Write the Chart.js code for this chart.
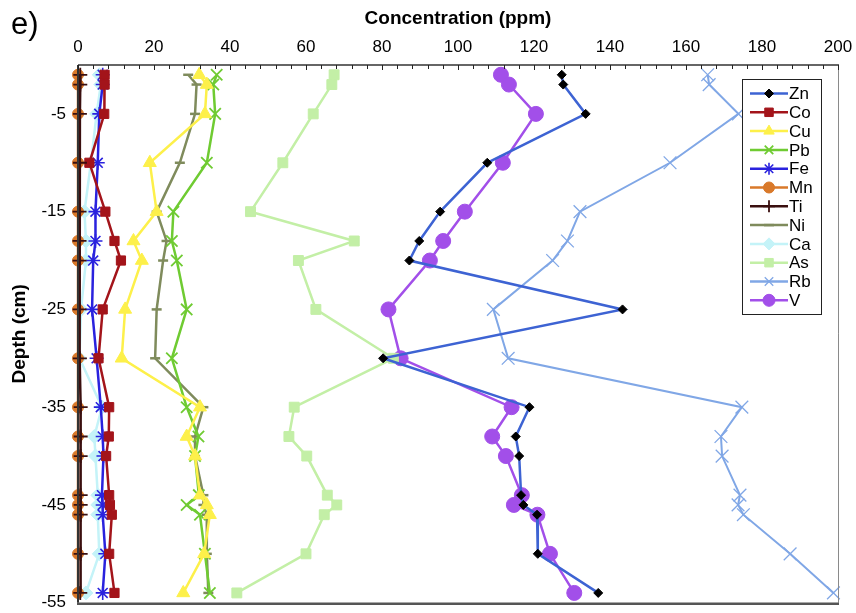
<!DOCTYPE html>
<html>
<head>
<meta charset="utf-8">
<script src="https://cdn.jsdelivr.net/npm/chart.js@4.4.1/dist/chart.umd.min.js"></script>
<style>
  html, body { margin: 0; padding: 0; background: #fff; }
  #wrap { width: 856px; height: 613px; }
</style>
</head>
<body>
<div id="wrap"><canvas id="profile" width="856" height="613"></canvas></div>
<script>
// Sampling depths (cm) of the core, top to bottom
const depths = [-1, -2, -5, -10, -15, -18, -20, -25, -30, -35, -38, -40, -44, -45, -46, -50, -54];

// Element concentrations (ppm) at each depth
const znPpm = [127.3, 127.7, 133.6, 107.7, 95.3, 89.8, 87.2, 143.3, 80.3, 118.8, 115.2, 116.1, 116.6, 117.2, 120.8, 121.0, 136.9];
const coPpm = [7.0, 7.0, 6.9, 3.0, 7.2, 9.6, 11.3, 6.5, 5.4, 8.2, 8.1, 7.4, 8.2, 8.4, 8.9, 8.2, 9.6];
const cuPpm = [31.9, 33.9, 33.4, 18.9, 20.7, 14.6, 16.8, 12.4, 11.5, 32.1, 28.6, 30.8, 32.1, 33.9, 34.7, 33.2, 27.7];
const pbPpm = [36.5, 35.6, 36.1, 33.9, 25.1, 24.7, 26.0, 28.6, 24.7, 28.6, 31.7, 30.8, 31.8, 28.6, 32.1, 33.4, 34.7];
const fePpm = [6.5, 6.5, 5.6, 5.2, 4.6, 4.6, 4.0, 3.7, 4.9, 6.0, 6.5, 6.7, 6.3, 6.5, 6.5, 7.2, 6.5];
const mnPpm = [0, 0, 0, 0, 0, 0, 0, 0, 0, 0, 0, 0, 0, 0, 0, 0, 0];
const tiPpm = [0.6, 0.6, 0.5, 0.5, 0.4, 0.4, 0.4, 0.4, 0.5, 0.7, 0.7, 0.7, 0.7, 0.7, 0.7, 0.7, 0.6];
const niPpm = [29.0, 31.2, 30.8, 26.8, 20.7, 23.3, 22.4, 20.7, 20.3, 33.0, 30.8, 30.8, 33.0, 33.0, 33.9, 33.9, 34.3];
const caPpm = [5.6, 6.0, 4.9, 3.4, 1.7, 2.1, 2.1, 0.8, 0.4, 6.3, 4.3, 4.6, 5.2, 5.2, 5.2, 5.6, 2.1];
const asPpm = [67.4, 66.8, 61.9, 53.9, 45.4, 72.7, 58.0, 62.6, 83.0, 56.9, 55.5, 60.2, 65.6, 68.1, 64.8, 60.0, 41.8];
const rbPpm = [165.7, 166.1, 173.8, 155.8, 132.1, 128.8, 124.9, 109.3, 113.2, 174.7, 169.2, 169.5, 174.2, 173.7, 175.1, 187.4, 198.8];
const vPpm  = [111.3, 113.4, 120.5, 111.8, 101.8, 96.1, 92.6, 81.7, 84.9, 114.1, 109.0, 112.6, 116.8, 114.7, 120.9, 124.2, 130.6];

// Axis tick values
const xTickStep = 20;
const depthTicks = [-5, -15, -25, -35, -45, -55];

const FONT = "'Liberation Sans', Arial, Helvetica, sans-serif";

function profile(values) {
  return values.map((v, i) => ({ x: v, y: depths[i] }));
}

function series(label, values, line, style) {
  return Object.assign({
    label: label,
    data: profile(values),
    showLine: true,
    borderColor: line,
    backgroundColor: line,
    borderWidth: 2.5,
    pointBorderWidth: 1,
    pointHoverRadius: 0,
    clip: false
  }, style);
}

const datasets = [
  series('Zn', znPpm, '#3d63d3', { pointStyle: 'rectRot', pointRadius: 4.5, pointBackgroundColor: '#000', pointBorderColor: '#000' }),
  series('Co', coPpm, '#a3141a', { pointStyle: 'rect', pointRadius: 6.5, pointBackgroundColor: '#a3141a', pointBorderColor: '#a3141a' }),
  series('Cu', cuPpm, '#fdf04a', { pointStyle: 'triangle', pointRadius: 7.5, pointBackgroundColor: '#fdf04a', pointBorderColor: '#fdf04a' }),
  series('Pb', pbPpm, '#6fcb32', { pointStyle: 'crossRot', pointRadius: 8, pointBackgroundColor: '#6fcb32', pointBorderColor: '#6fcb32', pointBorderWidth: 1.8 }),
  series('Fe', fePpm, '#2a22de', { pointStyle: 'star', pointRadius: 7, pointBackgroundColor: '#2a22de', pointBorderColor: '#2a22de', pointBorderWidth: 1.6 }),
  series('Mn', mnPpm, '#d9792a', { pointStyle: 'circle', pointRadius: 5.5, pointBackgroundColor: '#d9792a', pointBorderColor: '#d9792a' }),
  series('Ti', tiPpm, '#3a0f0f', { pointStyle: 'cross', pointRadius: 7, pointBackgroundColor: '#3a0f0f', pointBorderColor: '#3a0f0f', pointBorderWidth: 1.8, order: -1 }),
  series('Ni', niPpm, '#7f8b5c', { pointStyle: 'line', pointRadius: 5, pointBackgroundColor: '#7f8b5c', pointBorderColor: '#7f8b5c', pointBorderWidth: 2.5 }),
  series('Ca', caPpm, '#c4f3f8', { pointStyle: 'rectRot', pointRadius: 7, pointBackgroundColor: '#c4f3f8', pointBorderColor: '#c4f3f8' }),
  series('As', asPpm, '#c3efa6', { pointStyle: 'rect', pointRadius: 7, pointBackgroundColor: '#c3efa6', pointBorderColor: '#c3efa6' }),
  series('Rb', rbPpm, '#80a7e6', { pointStyle: 'crossRot', pointRadius: 9, pointBackgroundColor: '#80a7e6', pointBorderColor: '#80a7e6', pointBorderWidth: 1.3, borderWidth: 2 }),
  series('V',  vPpm,  '#a24fe9', { pointStyle: 'circle', pointRadius: 7.5, pointBackgroundColor: '#a24fe9', pointBorderColor: '#a24fe9' })
];

// Plot frame, inward minor ticks on the top axis, and the panel letter
const framePlugin = {
  id: 'frame',
  afterDatasetsDraw(chart) {
    const { ctx, chartArea: a } = chart;
    const xs = chart.scales.x;
    ctx.save();
    ctx.strokeStyle = '#8a8a8a';
    ctx.lineWidth = 1;
    ctx.beginPath();
    ctx.moveTo(a.right + 0.5, a.top);
    ctx.lineTo(a.right + 0.5, a.bottom);
    ctx.stroke();
    ctx.strokeStyle = '#333';
    ctx.lineWidth = 1.5;
    ctx.beginPath();
    ctx.moveTo(a.left, a.top);
    ctx.lineTo(a.right + 1, a.top);
    ctx.stroke();
    ctx.lineWidth = 2;
    ctx.beginPath();
    ctx.moveTo(a.left, a.top);
    ctx.lineTo(a.left, a.bottom);
    ctx.stroke();
    ctx.strokeStyle = '#555';
    ctx.lineWidth = 2.5;
    ctx.beginPath();
    ctx.moveTo(a.left - 1, a.bottom + 1);
    ctx.lineTo(a.right + 1, a.bottom + 1);
    ctx.stroke();
    ctx.strokeStyle = '#222';
    ctx.lineWidth = 1;
    for (let v = xs.min; v <= xs.max; v += 4) {
      const px = Math.round(xs.getPixelForValue(v)) + 0.5;
      ctx.beginPath();
      ctx.moveTo(px, a.top);
      ctx.lineTo(px, a.top + (v % xTickStep === 0 ? 5 : 4));
      ctx.stroke();
    }
    ctx.fillStyle = '#000';
    ctx.font = '31px ' + FONT;
    ctx.textAlign = 'left';
    ctx.textBaseline = 'alphabetic';
    ctx.fillText('e)', 11, 34);
    ctx.restore();
  }
};

// Boxed legend with a line sample and marker for each element
const legendPlugin = {
  id: 'boxLegend',
  afterDraw(chart) {
    const ctx = chart.ctx;
    const x0 = 742, y0 = 79, w = 79, h = 235, rowH = 18.8;
    ctx.save();
    ctx.fillStyle = '#fff';
    ctx.fillRect(x0, y0, w, h);
    ctx.strokeStyle = '#222';
    ctx.lineWidth = 1;
    ctx.strokeRect(x0 + 0.5, y0 + 0.5, w, h);
    chart.data.datasets.forEach((ds, i) => {
      const y = y0 + 14.5 + i * rowH;
      ctx.strokeStyle = ds.borderColor;
      ctx.lineWidth = 2.5;
      ctx.beginPath();
      ctx.moveTo(750, y);
      ctx.lineTo(788, y);
      ctx.stroke();
      ctx.fillStyle = ds.pointBackgroundColor;
      ctx.strokeStyle = ds.pointBorderColor;
      ctx.lineWidth = ds.pointBorderWidth;
      Chart.helpers.drawPoint(ctx, {
        pointStyle: ds.pointStyle,
        radius: Math.min(ds.pointRadius, 6),
        rotation: 0,
        borderWidth: ds.pointBorderWidth
      }, 769, y);
      ctx.fillStyle = '#000';
      ctx.font = '17px ' + FONT;
      ctx.textAlign = 'left';
      ctx.textBaseline = 'middle';
      ctx.fillText(ds.label, 789, y + 1);
    });
    ctx.restore();
  }
};

new Chart(document.getElementById('profile'), {
  type: 'scatter',
  data: { datasets: datasets },
  options: {
    responsive: false,
    animation: false,
    devicePixelRatio: 1,
    events: [],
    layout: { padding: { top: 0, left: 0, right: 18, bottom: 9 } },
    plugins: {
      legend: { display: false },
      tooltip: { enabled: false }
    },
    scales: {
      x: {
        type: 'linear',
        position: 'top',
        min: 0,
        max: 200,
        grid: { display: false, drawTicks: false },
        border: { display: false },
        ticks: {
          stepSize: xTickStep,
          color: '#000',
          font: { family: FONT, size: 17 },
          padding: 7,
          maxRotation: 0,
          autoSkip: false
        },
        title: {
          display: true,
          text: 'Concentration (ppm)',
          color: '#000',
          font: { family: FONT, size: 19, weight: 'bold' },
          padding: { top: 7, bottom: 0 }
        },
        afterFit(scale) {
          scale.height = 65;
          scale.paddingLeft = 0;
          scale.paddingRight = 0;
        }
      },
      y: {
        type: 'linear',
        min: -55,
        max: 0,
        grid: { display: false, drawTicks: false },
        border: { display: false },
        afterBuildTicks(scale) { scale.ticks = depthTicks.map(v => ({ value: v })); },
        ticks: {
          color: '#000',
          font: { family: FONT, size: 17 },
          padding: 12,
          autoSkip: false
        },
        title: {
          display: true,
          text: 'Depth (cm)',
          color: '#000',
          font: { family: FONT, size: 19, weight: 'bold' },
          padding: { top: 8, bottom: 0 }
        },
        afterFit(scale) {
          scale.width = 78;
          scale.paddingTop = 0;
          scale.paddingBottom = 0;
        }
      }
    }
  },
  plugins: [framePlugin, legendPlugin]
});
</script>
</body>
</html>
